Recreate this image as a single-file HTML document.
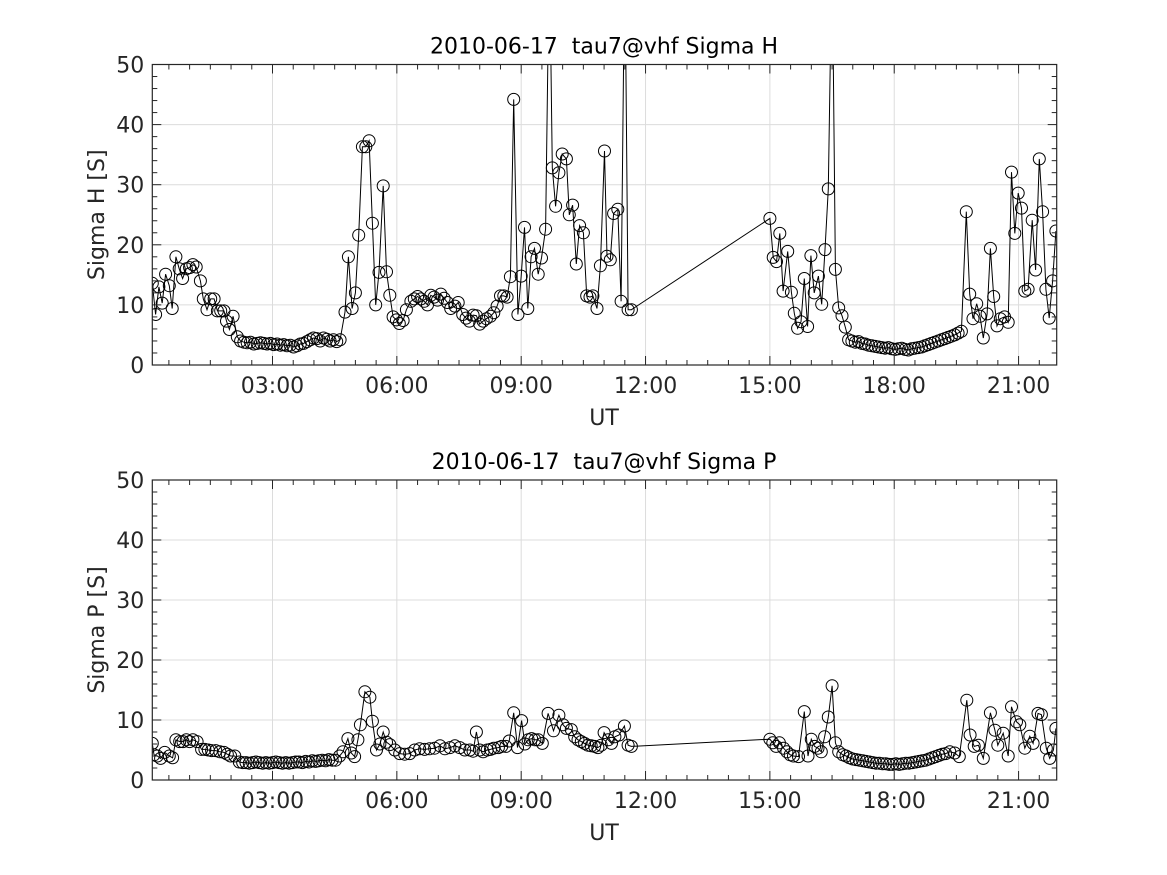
<!DOCTYPE html>
<html><head><meta charset="utf-8"><style>
html,body{margin:0;padding:0;background:#fff;}
svg{display:block;font-family:"DejaVu Sans","Liberation Sans",sans-serif;}
</style></head><body>
<svg id="fig" width="1167" height="875" viewBox="0 0 1167 875" xmlns="http://www.w3.org/2000/svg"></svg>
<script>
// ---- data: Sigma H ----
const hTimes = [0.10,0.18,0.26,0.34,0.42,0.51,0.58,0.67,0.75,0.83,0.92,1.00,1.08,1.16,1.26,1.33,1.42,1.51,1.59,1.67,1.75,1.83,1.89,1.96,2.05,2.15,
2.23,2.31,2.39,2.47,2.55,2.63,2.71,2.79,2.87,2.95,3.03,3.11,3.19,3.27,3.35,3.43,3.51,3.59,3.67,3.75,3.83,3.91,3.99,4.07,4.15,4.23,4.31,4.39,4.47,4.55,4.63,
4.75,4.83,4.92,5.00,5.08,5.17,5.25,5.33,5.41,5.49,5.57,5.67,5.75,5.83,5.91,5.99,6.06,6.15,6.23,
6.34,6.42,6.50,6.58,6.66,6.74,6.82,6.90,6.98,7.06,7.14,7.22,7.30,7.40,7.48,
7.59,7.67,7.75,7.84,7.92,8.00,8.08,8.16,8.26,8.34,8.42,8.50,8.58,8.66,8.74,8.82,8.92,9.00,9.08,9.16,9.24,9.32,9.41,9.49,9.59,9.68,9.75,9.83,9.91,9.99,10.09,10.16,10.24,10.33,10.41,10.50,10.58,10.66,10.73,10.83,10.91,11.01,11.07,11.15,11.23,11.33,11.41,11.50,11.58,11.66,
15.00,15.08,15.16,15.24,15.32,15.43,15.52,15.59,15.67,15.75,15.83,15.91,15.99,16.07,16.17,16.25,16.33,16.41,16.50,16.58,16.66,16.74,16.82,
16.90,16.98,17.06,17.14,17.22,17.30,17.38,17.46,17.54,17.62,17.70,17.78,17.86,17.94,18.02,18.10,18.18,18.26,18.34,18.42,18.50,18.58,18.66,18.74,18.82,18.90,18.98,19.06,19.14,19.22,19.30,19.38,19.46,19.54,19.62,
19.74,19.82,19.90,19.99,20.07,20.15,20.24,20.32,20.40,20.48,20.56,20.66,20.75,20.83,20.91,20.99,21.07,21.15,21.23,21.33,21.41,21.50,21.58,21.66,21.74,21.82,21.90];
const hValues = [13.6,8.4,13.0,10.3,15.1,13.2,9.4,18.0,16.0,14.4,16.0,16.2,16.7,16.3,14.0,11.0,9.2,11.0,11.0,9.0,9.0,9.0,7.3,5.9,8.1,4.7,
4.0,3.8,3.7,3.8,3.5,3.6,3.7,3.6,3.5,3.6,3.4,3.5,3.3,3.4,3.2,3.3,3.0,3.2,3.5,3.6,3.9,4.2,4.5,4.4,4.0,4.5,4.3,4.0,4.2,3.9,4.2,
8.8,18.0,9.4,12.0,21.6,36.3,36.3,37.3,23.6,10.0,15.4,29.8,15.5,11.6,8.0,7.5,6.9,7.4,9.2,
10.6,11.0,11.4,11.0,10.6,10.0,11.6,11.3,10.8,11.8,11.1,10.4,9.4,9.8,10.4,
8.4,7.8,7.3,8.3,8.2,6.8,7.3,7.7,8.1,8.7,9.8,11.5,11.5,11.3,14.7,44.2,8.4,14.8,22.9,9.4,18.0,19.4,15.1,17.8,22.6,70,32.8,26.4,32.0,35.1,34.3,25.0,26.6,16.8,23.2,22.0,11.5,11.3,11.5,9.4,16.5,35.6,18.1,17.5,25.2,25.9,10.6,70,9.2,9.2,
24.4,17.9,17.2,21.9,12.3,18.9,12.1,8.6,6.1,7.2,14.4,6.4,18.2,12.0,14.8,10.1,19.2,29.3,70,15.9,9.5,8.2,6.3,
4.2,4.0,3.8,3.9,3.6,3.5,3.3,3.2,3.1,3.0,2.9,2.8,2.9,2.7,2.6,2.7,2.8,2.6,2.5,2.7,2.8,2.9,3.0,3.2,3.4,3.6,3.8,4.0,4.2,4.4,4.6,4.8,5.0,5.3,5.6,
25.5,11.8,7.7,10.2,8.1,4.5,8.5,19.4,11.4,6.5,7.7,8.0,7.1,32.1,21.9,28.6,26.1,12.3,12.6,24.1,15.8,34.3,25.5,12.6,7.8,14.0,22.3];

// ---- data: Sigma P ----
const pTimes = [0.10,0.14,0.22,0.30,0.40,0.51,0.59,0.67,0.76,0.84,0.92,1.00,1.08,1.18,1.29,1.37,1.45,1.53,1.63,1.73,1.83,1.91,1.99,2.09,
2.20,2.28,2.36,2.44,2.52,2.60,2.68,2.76,2.84,2.92,3.00,3.08,3.16,3.24,3.32,3.40,3.48,3.56,3.64,3.72,3.80,3.88,3.96,4.04,4.12,4.20,4.28,4.36,4.44,4.52,
4.62,4.70,4.82,4.90,4.98,5.06,5.12,5.23,5.35,5.41,5.51,5.59,5.67,5.75,5.83,
5.95,6.07,6.19,6.31,6.43,6.55,6.67,6.79,6.91,7.04,7.16,7.28,7.40,7.52,7.64,7.76,
7.84,7.92,8.00,8.08,8.18,8.26,8.34,8.45,8.53,8.63,8.71,8.82,8.91,9.01,9.09,9.17,9.25,9.33,9.41,9.51,9.65,9.78,9.91,10.01,10.09,10.21,10.29,10.37,10.45,10.53,10.61,10.69,10.77,10.85,10.93,11.00,11.10,11.18,11.26,11.36,11.49,11.58,11.66,
15.00,15.07,15.15,15.23,15.33,15.41,15.49,15.57,15.69,15.83,15.92,16.00,16.08,16.16,16.24,16.32,16.41,16.50,16.58,16.66,
16.76,16.84,16.92,17.00,17.08,17.16,17.24,17.32,17.40,17.48,17.56,17.64,17.72,17.80,17.88,17.96,18.04,18.12,18.20,18.28,18.36,18.44,18.52,18.60,18.68,18.76,18.84,18.92,19.00,19.08,19.16,19.24,
19.34,19.46,19.57,19.75,19.83,19.93,20.03,20.15,20.32,20.43,20.50,20.63,20.75,20.83,20.95,21.03,21.15,21.27,21.35,21.47,21.55,21.67,21.75,21.84,21.90];
const pValues = [6.1,4.2,4.0,3.6,4.6,4.0,3.7,6.7,6.4,6.4,6.7,6.4,6.7,6.4,5.1,5.1,5.0,4.9,4.9,4.7,4.6,4.3,4.0,4.0,
3.0,2.9,2.9,2.8,2.9,3.0,2.9,2.8,2.9,2.8,2.9,3.0,2.9,2.8,2.9,2.8,2.9,3.0,3.0,2.9,3.1,3.0,3.2,3.1,3.2,3.3,3.2,3.4,3.3,3.3,
4.0,4.7,6.9,4.5,3.9,6.7,9.2,14.7,13.8,9.8,5.0,6.0,8.0,6.3,5.9,
5.0,4.4,4.3,4.4,5.0,5.2,5.1,5.2,5.3,5.7,5.2,5.4,5.7,5.4,5.0,5.0,
4.8,8.0,5.0,4.7,5.0,5.1,5.3,5.4,5.6,5.6,6.5,11.2,5.4,9.9,6.0,6.7,6.9,6.7,6.7,6.1,11.1,8.2,10.8,9.2,8.6,8.4,7.2,6.7,6.4,6.1,5.8,5.7,5.6,5.4,5.8,7.9,6.7,6.1,7.2,7.5,9.0,5.8,5.6,
6.8,6.2,5.6,6.2,5.3,4.7,4.2,4.0,3.9,11.4,4.0,6.8,5.6,5.3,4.7,7.2,10.5,15.7,6.2,4.7,
4.2,4.0,3.7,3.5,3.4,3.3,3.2,3.1,3.0,2.9,2.8,2.8,2.7,2.7,2.6,2.6,2.7,2.6,2.7,2.8,2.8,2.9,3.0,3.1,3.2,3.3,3.5,3.7,3.9,4.1,4.3,4.4,
4.7,4.5,3.9,13.3,7.5,5.6,5.8,3.6,11.2,8.3,5.8,7.8,4.0,12.2,9.7,9.2,5.3,7.3,6.1,11.1,10.9,5.3,3.6,5.0,8.6];

const xTickHours = [3,6,9,12,15,18,21];
const xTickLabels = ["03:00","06:00","09:00","12:00","15:00","18:00","21:00"];
const yTickValues = [0,10,20,30,40,50];

const NS = "http://www.w3.org/2000/svg";
const svg = document.getElementById("fig");
function mk(tag, attrs, parent){
  const e = document.createElementNS(NS, tag);
  for (const k in attrs) e.setAttribute(k, attrs[k]);
  (parent||svg).appendChild(e);
  return e;
}
const X0 = 152.3, X1 = 1056.7, H0 = 0.1, H1 = 21.92;
function xs(h){ return X0 + (h - H0) / (H1 - H0) * (X1 - X0); }

function panel(top, bottom, title, ylabel, times, values, key){
  const g = mk("g", {});
  
  
  const ys = v => bottom - v / 50 * (bottom - top);
  mk("rect", {x:X0, y:top, width:X1-X0, height:bottom-top, fill:"#fff"}, g);
  for (const h of xTickHours) {
    const l = mk("line", {x1:xs(h), x2:xs(h), y1:top, y2:bottom, stroke:"#dcdcdc", "stroke-width":1}, g);
    
    
  }
  for (const v of yTickValues) {
    const l = mk("line", {x1:X0, x2:X1, y1:ys(v), y2:ys(v), stroke:"#dcdcdc", "stroke-width":1}, g);
    
    
  }
  const cp = mk("clipPath", {id:"clip-"+key}, g);
  mk("rect", {x:X0, y:top, width:X1-X0, height:bottom-top}, cp);
  const dg = mk("g", {"clip-path":"url(#clip-"+key+")"}, g);
  
  
  let d = "";
  for (let i = 0; i < times.length; i++) d += (i ? "L" : "M") + xs(times[i]).toFixed(1) + "," + ys(values[i]).toFixed(1);
  const ln = mk("path", {d:d, fill:"none", stroke:"#000", "stroke-width":1}, dg);
  
  
  for (let i = 0; i < times.length; i++) {
    const c = mk("circle", {cx:xs(times[i]).toFixed(1), cy:ys(values[i]).toFixed(1), r:6, fill:"none", stroke:"#000", "stroke-width":1}, dg);
    
    
  }
  mk("rect", {x:X0, y:top, width:X1-X0, height:bottom-top, fill:"none", stroke:"#262626", "stroke-width":1.2}, g);
  for (let h = 0.5; h < H1; h += 0.5) {
    if (h < H0) continue;
    const major = Math.abs(h/3 - Math.round(h/3)) < 1e-6;
    const len = major ? 9 : 5;
    mk("line", {x1:xs(h), x2:xs(h), y1:bottom, y2:bottom-len, stroke:"#262626"}, g);
    mk("line", {x1:xs(h), x2:xs(h), y1:top, y2:top+len, stroke:"#262626"}, g);
  }
  for (let v = 0; v <= 50; v += 2) {
    const major = v % 10 === 0;
    const len = major ? 9 : 5;
    mk("line", {x1:X0, x2:X0+len, y1:ys(v), y2:ys(v), stroke:"#262626"}, g);
    mk("line", {x1:X1, x2:X1-len, y1:ys(v), y2:ys(v), stroke:"#262626"}, g);
  }
  xTickHours.forEach((h, i) => {
    const t = mk("text", {x:xs(h), y:bottom+28, "text-anchor":"middle", "font-size":22, fill:"#262626"}, g);
    t.textContent = xTickLabels[i];
    
    
  });
  yTickValues.forEach(v => {
    const t = mk("text", {x:X0-8, y:ys(v)+8, "text-anchor":"end", "font-size":22, fill:"#262626"}, g);
    t.textContent = String(v);
    
    
  });
  const xt = mk("text", {x:604, y:bottom+60, "text-anchor":"middle", "font-size":22, fill:"#262626"}, g);
  xt.textContent = "UT";
  
  
  const yt = mk("text", {x:0, y:0, "text-anchor":"middle", "font-size":22, fill:"#262626", transform:"translate(104," + ((top+bottom)/2) + ") rotate(-90)"}, g);
  yt.textContent = ylabel;
  
  
  const tt = mk("text", {x:604, y:top-11, "text-anchor":"middle", "font-size":22, fill:"#000"}, g);
  tt.textContent = title;
  tt.setAttribute("xml:space", "preserve");
  tt.style.whiteSpace = "pre";
  
  
}
panel(64.5, 365, "2010-06-17  tau7@vhf Sigma H", "Sigma H [S]", hTimes, hValues, "sigma-h");
panel(480, 780, "2010-06-17  tau7@vhf Sigma P", "Sigma P [S]", pTimes, pValues, "sigma-p");
</script>
</body></html>
